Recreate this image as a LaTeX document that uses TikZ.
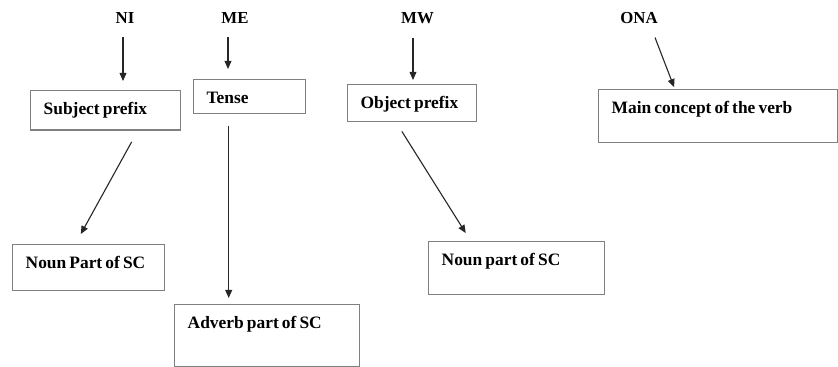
\documentclass[tikz,border=0pt]{standalone}
\usepackage{fontspec}
\setmainfont{Liberation Serif}
\usetikzlibrary{arrows.meta}
\begin{document}
\begin{tikzpicture}[x=0.5pt,y={(0pt,-0.5pt)},>={Triangle[length=4pt,width=3.4pt]},
  every node/.style={font=\fontsize{8.7}{10}\selectfont\bfseries,execute at begin node={\spaceskip=0.18em\relax}},
  lbl/.style={anchor=base,inner sep=3pt,font=\fontsize{8.4}{10}\selectfont\bfseries},
  box/.style={draw=gray,line width=0.7pt,anchor=north west,align=left,inner xsep=6.5pt,inner ysep=0pt,text height=11.75pt},
  link/.style={->,line width=0.55pt,draw=black!85}]
\useasboundingbox (0,0) rectangle (838,367);
\node[lbl] (ni) at (125,24) {NI};
\node[lbl] (me) at (235,24) {ME};
\node[lbl] (mw) at (417.5,24) {MW};
\node[lbl] (ona) at (639,24) {ONA};
\node[box,text width=62pt,text depth=8pt] (sp) at (30,90) {Subject prefix};
\node[box,text width=43pt,text depth=5.25pt] (tense) at (193,79) {Tense};
\node[box,text width=51.5pt,text depth=6.75pt] (op) at (347,84) {Object prefix};
\node[box,text width=106.5pt,text depth=14.75pt] (mc) at (598,89) {Main concept of the verb};
\node[box,text width=63pt,text depth=11.25pt] (np1) at (12,244) {Noun Part of SC};
\node[box,text width=79.5pt,text depth=19.25pt] (adv) at (174,304) {Adverb part of SC};
\node[box,text width=75pt,text depth=14.75pt] (np2) at (428,241) {Noun part of SC};
\draw[link,shorten <=3.5pt,shorten >=4.5pt] ([xshift=-1pt]ni.south) -- ([xshift=-1pt]ni.south |- sp.north);
\draw[link,shorten <=3.5pt,shorten >=5pt] ([xshift=-3.5pt]me.south) -- ([xshift=-3.5pt]me.south |- tense.north);
\draw[link,shorten <=3.5pt,shorten >=2pt] ([xshift=-2.25pt]mw.south) -- ([xshift=-2.25pt]mw.south |- op.north);
\draw[link,shorten <=3.75pt,shorten >=1pt] ([xshift=6.65pt]ona.south) -- ([xshift=38.4pt]mc.north west);
\draw[link,shorten <=6.25pt,shorten >=5.7pt] ([xshift=16pt]sp.south) -- ([xshift=-6.7pt]np1.north);
\draw[link,shorten <=6pt,shorten >=3pt] ([xshift=-10.5pt]tense.south) -- ([xshift=-10.5pt]tense.south |- adv.north);
\draw[link,shorten <=5.3pt,shorten >=4.7pt] ([xshift=-8pt]op.south) -- ([xshift=-23pt]np2.north);
\end{tikzpicture}
\end{document}
